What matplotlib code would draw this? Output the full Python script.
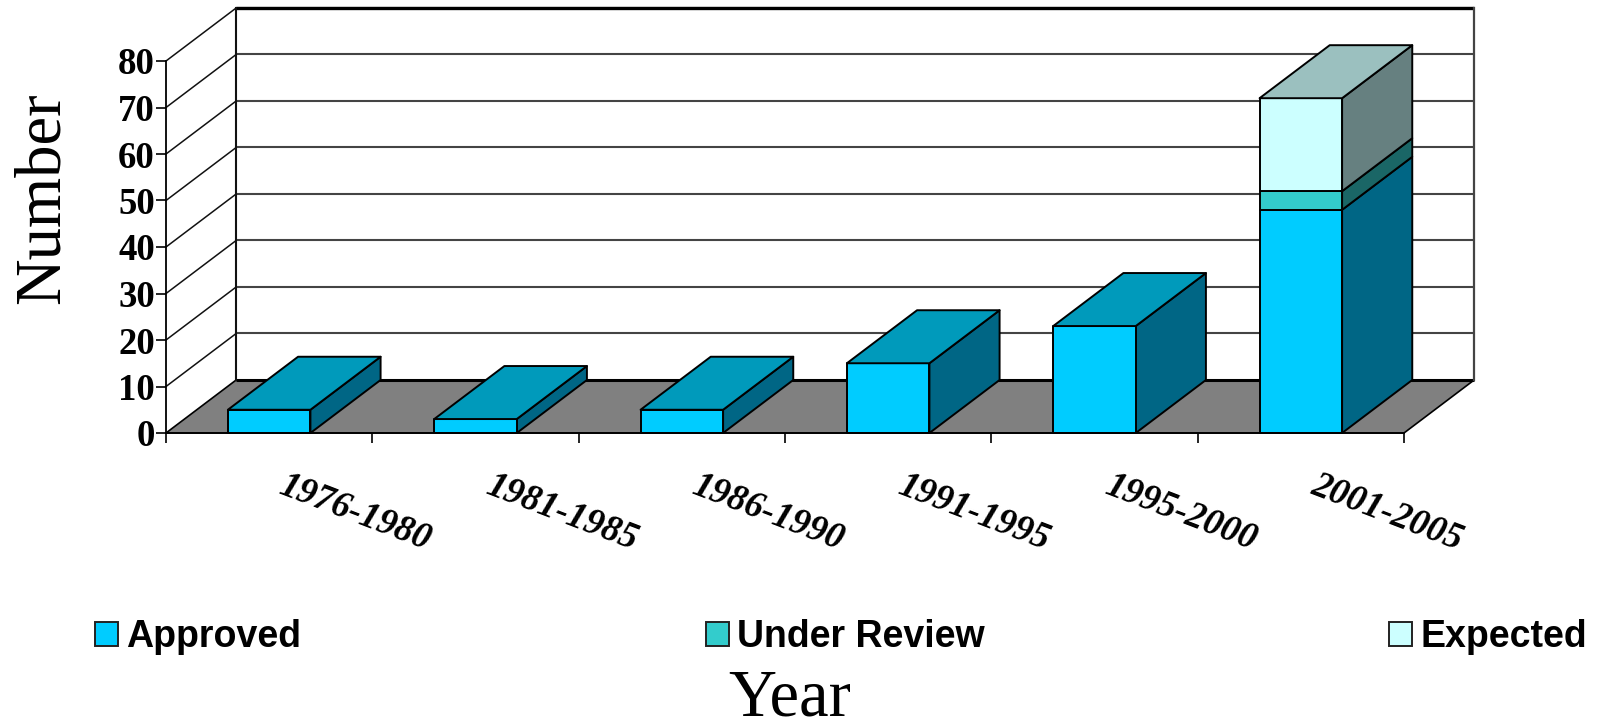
import matplotlib
matplotlib.use("Agg")
import matplotlib.pyplot as plt
from matplotlib.patches import Polygon, Patch

# ===================== data =====================
YEARS = ["1976-1980", "1981-1985", "1986-1990", "1991-1995", "1995-2000", "2001-2005"]
APPROVED = [5, 3, 5, 15, 23, 48]
UNDER_REVIEW = [0, 0, 0, 0, 0, 4]
EXPECTED = [0, 0, 0, 0, 0, 20]
Y_TICKS = [0, 10, 20, 30, 40, 50, 60, 70, 80]
LEGEND_LABELS = ["Approved", "Under Review", "Expected"]

# ===================== style =====================
W, H = 1598, 719
SERIF = "Liberation Serif"
SANS = "Liberation Sans"
# front / side / top colours of each series
COLORS = [("#00CCFF", "#006685", "#009ABB"),
          ("#33CCCC", "#1A6666", "#269999"),
          ("#CCFFFF", "#668080", "#9BC0BF")]
BAR_WIDTH = 0.4
DEPTH_X = 0.34    # depth offset in category units
DEPTH_Y = 11.4    # depth offset in value units
EDGE = "#000000"


def face(ax, pts, fc, z, lw=1.4, ec=EDGE):
    ax.add_patch(Polygon(pts, closed=True, facecolor=fc, edgecolor=ec,
                         linewidth=lw, zorder=z, clip_on=False, joinstyle="round"))


def draw_box(ax, x0, x1, y0, y1, colors, z):
    front, side, top = colors
    face(ax, [(x1, y0), (x1 + DEPTH_X, y0 + DEPTH_Y),
              (x1 + DEPTH_X, y1 + DEPTH_Y), (x1, y1)], side, z)
    face(ax, [(x0, y0), (x1, y0), (x1, y1), (x0, y1)], front, z + 0.1)


def draw_frame(ax):
    n = len(YEARS)
    top = Y_TICKS[-1]
    # back wall and floor
    face(ax, [(DEPTH_X, DEPTH_Y), (n + DEPTH_X, DEPTH_Y),
              (n + DEPTH_X, top + DEPTH_Y), (DEPTH_X, top + DEPTH_Y)],
         "white", 1, lw=0)
    face(ax, [(0, 0), (n, 0), (n + DEPTH_X, DEPTH_Y), (DEPTH_X, DEPTH_Y)],
         "#808080", 2, lw=1.2)

    for v in Y_TICKS[1:]:
        ax.plot([0, DEPTH_X], [v, v + DEPTH_Y], color="#111111", lw=1.1,
                zorder=3, clip_on=False)
        ax.plot([DEPTH_X, n + DEPTH_X], [v + DEPTH_Y] * 2, color="#444444",
                lw=1.5, zorder=3, clip_on=False, solid_capstyle="butt")
    ax.plot([DEPTH_X, n + DEPTH_X], [top + DEPTH_Y] * 2, color="black", lw=2.4,
            zorder=3, clip_on=False, solid_capstyle="butt")
    ax.plot([DEPTH_X, n + DEPTH_X], [DEPTH_Y, DEPTH_Y], color="black", lw=2.2,
            zorder=3, clip_on=False, solid_capstyle="butt")
    ax.plot([DEPTH_X, DEPTH_X], [DEPTH_Y, top + DEPTH_Y], color="#111111", lw=1.5,
            zorder=3, clip_on=False)
    ax.plot([n + DEPTH_X, n + DEPTH_X], [DEPTH_Y, top + DEPTH_Y], color="#444444",
            lw=1.6, zorder=3, clip_on=False)


def main():
    fig = plt.figure(figsize=(W / 100, H / 100), dpi=100)
    ax = fig.add_axes([166 / W, (H - 433) / H, 1238 / W, 372 / H])
    ax.set_xlim(0, len(YEARS))
    ax.set_ylim(0, Y_TICKS[-1])

    for s in ["top", "right"]:
        ax.spines[s].set_visible(False)
    for s in ["left", "bottom"]:
        ax.spines[s].set_linewidth(1.3)
        ax.spines[s].set_zorder(30)

    draw_frame(ax)

    for i in range(len(YEARS)):
        x0 = i + 0.5 - BAR_WIDTH / 2
        x1 = x0 + BAR_WIDTH
        base = 0
        z = 5 + i * 3
        for vals, cols in zip([APPROVED, UNDER_REVIEW, EXPECTED], COLORS):
            if vals[i] > 0:
                draw_box(ax, x0, x1, base, base + vals[i], cols, z)
                base += vals[i]
                last = cols
        # lid of the stack
        face(ax, [(x0, base), (x1, base), (x1 + DEPTH_X, base + DEPTH_Y),
                  (x0 + DEPTH_X, base + DEPTH_Y)], last[2], z + 0.2)

    # ticks
    ax.set_yticks(Y_TICKS)
    ax.set_yticklabels([str(v) for v in Y_TICKS], fontfamily=SERIF,
                       fontweight="bold", fontsize=26.5)
    ax.tick_params(axis="y", length=7, width=1.2, pad=1)
    ax.set_xticks(range(len(YEARS) + 1))
    ax.set_xticklabels([])
    ax.tick_params(axis="x", length=7, width=1.2)

    # rotated category labels, placed below each slot
    for i, lab in enumerate(YEARS):
        ax.annotate(lab, xy=(i + 0.5, 0), xycoords="data",
                    xytext=(86, -80), textcoords="offset pixels",
                    rotation=-21, rotation_mode="anchor", ha="center", va="center",
                    fontfamily=SERIF, fontweight="bold", fontstyle="italic",
                    fontsize=26.5, annotation_clip=False)

    fig.text(43 / W, (H - 198) / H, "Number", rotation=90, ha="center", va="center",
             fontfamily=SERIF, fontsize=46.5)
    fig.text(790 / W, (H - 699) / H, "Year", ha="center", va="center",
             fontfamily=SERIF, fontsize=48)

    handles = [Patch(facecolor=c[0], edgecolor="#222222", linewidth=1.4) for c in COLORS]
    ax.legend(handles, LEGEND_LABELS, ncol=3, frameon=False,
              loc="center left", bbox_to_anchor=(95 / W, (H - 637) / H),
              bbox_transform=fig.transFigure,
              prop={"family": SANS, "weight": "bold", "size": 27},
              handlelength=0.62, handleheight=0.62, handletextpad=0.22,
              columnspacing=10.78, borderpad=0, borderaxespad=0)

    fig.savefig("out.png", dpi=100)


if __name__ == "__main__":
    main()
